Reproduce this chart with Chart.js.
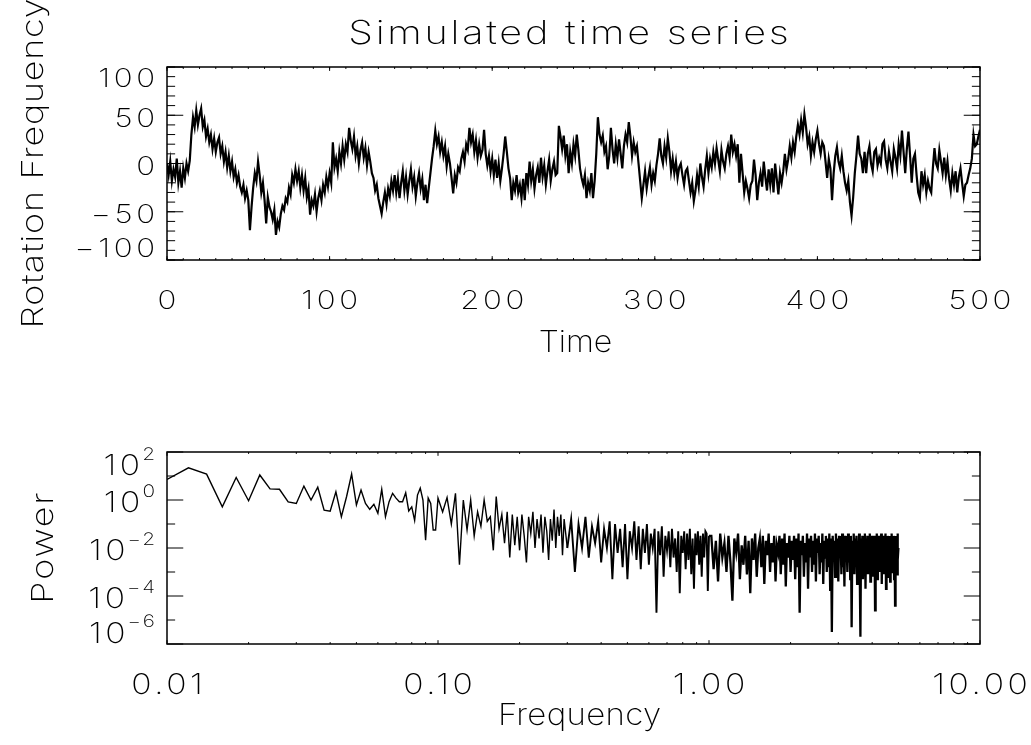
<!DOCTYPE html>
<html>
<head>
<meta charset="utf-8">
<title>Simulated time series</title>
<script src="https://cdn.jsdelivr.net/npm/chart.js@4.4.1/dist/chart.umd.min.js"></script>
<style>
  html, body { margin: 0; padding: 0; background: #fff; }
  canvas { display: block; }
</style>
</head>
<body>
<canvas id="seriesChart" width="1031" height="380"></canvas>
<canvas id="powerChart" width="1031" height="365"></canvas>
<script>
// rotation frequency, read every time unit (t = 0 ... 500)
const timeStep = 1;
const rotationFreq = [
  0, -12, 2, -18, -6, -14, 5, -20, -8, -25,
  -5, -15, 0, -8, 3, 30, 48, 38, 55, 40,
  50, 57, 38, 45, 28, 36, 22, 30, 15, 26,
  12, 22, 27, 10, 18, 2, 12, -4, 8, -8,
  2, -14, -6, -20, -12, -24, -30, -22, -36, -28,
  -38, -69, -45, -25, -10, -18, 2, -12, -30, -20,
  -38, -62, -35, -45, -50, -58, -48, -74, -60, -66,
  -52, -44, -48, -36, -40, -25, -32, -12, -20, -6,
  -18, -8, -25, -12, -28, -15, -35, -26, -53, -38,
  -44, -32, -50, -36, -28, -38, -22, -30, -14, -24,
  -10, -20, 22, -4, 5, -8, 12, 0, 18, 4,
  20, 12, 37, 24, 15, 28, 8, 18, 0, 14,
  22, 6, 16, -2, 12, 2, -10, -15, -28, -22,
  -36, -44, -52, -40, -30, -42, -26, -34, -18, -28,
  -12, -30, -16, -36, -20, -8, -28, -14, -32, -18,
  -6, -24, -14, -34, -20, -10, -26, -16, -38, -22,
  -41, -25, -10, 5, 18, 34, 20, 28, 12, 22,
  8, 18, -3, 10, 0, -15, -31, -12, -20, -4,
  -8, 5, 12, 2, 20, 14, 37, 22, 30, 12,
  24, 6, 20, 8, 14, 35, 10, -2, 8, -8,
  5, -12, 4, -15, 0, -18, -5, 10, 28, 12,
  -5, -15, -38, -20, -28, -12, -30, -22, -36, -16,
  -38, -10, -22, 2, -18, -6, -26, -12, -4, -20,
  6, -14, -2, -22, -8, 4, -18, -6, 2, -12,
  -10, 39, 28, 15, 29, 8, 20, -10, 12, 0,
  20, 8, 30, 14, -5, -15, -22, -12, -36, -20,
  -28, -10, -36, -18, 10, 48, 30, 22, 29, 12,
  18, -6, 8, 37, 15, 0, 20, 6, 25, 10,
  -5, 18, 30, 22, 43, 28, 8, 22, 12, 18,
  0, -18, -36, -22, -8, -26, -14, -4, -22, -10,
  -18, -2, 10, 26, 8, 0, 18, 6, 26, 12,
  -8, 5, -10, 2, -15, -4, 0, -12, -22, -8,
  -5, -18, -30, -20, -39, -28, -12, -24, 0, -14,
  -24, -6, 8, -10, 5, -4, 12, 0, 16, 4,
  -8, 14, 2, -5, 10, 18, 6, 30, 12, 20,
  8, 20, -20, 10, -10, -30, -18, -26, -36, -22,
  -18, 4, -12, -38, -20, -10, -24, 2, -14, -28,
  -6, -22, -5, -30, 0, -16, -32, -10, -20, -8,
  10, -6, 4, 18, 6, 22, 12, 28, 40, 30,
  45, 32, 51, 38, 20, 28, 8, 22, 12, 25,
  34, 20, 10, 22, 18, 2, -15, 5, -5, -38,
  -10, 8, 17, 2, -5, 8, -8, -20, -28, -18,
  -40, -54, -35, -10, 8, 29, 10, 5, -10, 12,
  -10, 10, 18, 0, -8, 12, 15, -2, 6, 0,
  20, 23, 4, -5, 12, 2, -8, 15, 6, -5,
  20, 8, 34, 12, -10, 15, 33, 8, -20, 5,
  10, -12, -30, -36, -8, -22, -12, -30, -18, -26,
  -30, -5, 16, 0, -5, 14, 2, -10, 6, -12,
  2, -16, -28, -10, -22, -8, -30, -14, -5, -20,
  -34, -22, -20, -12, -5, 5, 30, 18, 20, 28,
  35
];
const timeTicks = [0, 100, 200, 300, 400, 500];
const rotTicks = [-100, -50, 0, 50, 100];

// power spectrum, four runs of the frequency grid
const lowStart = 0.010, lowStep = 0.002;
const powerLow = [
  7.2, 22, 12, 0.52, 8.7, 0.93, 11, 2.9, 2.8, 0.83,
  0.72, 3.8, 1.0, 3.4, 0.38, 0.34, 2.2, 0.2, 1.4, 12,
  0.62, 2.6, 0.72, 0.41, 0.66, 0.28, 2.8, 0.2, 0.85, 1.9,
  1.2, 0.85, 0.85, 2.0, 0.35, 0.52, 0.14, 1.6, 3.1, 1.0,
  0.021, 1.2, 0.72, 0.056, 0.056, 1.2
];
const midStart = 0.104, midStep = 0.004;
const powerMid = [
  0.32, 1.26, 0.1, 1.9, 2e-3, 1, 5.6e-2, 1, 3.2e-2, 0.32,
  8e-2, 1, 0.13, 0.2, 8e-3, 1.4, 6.3e-2, 0.25, 1.6e-2, 0.32,
  4e-3, 0.25, 1.3e-2, 0.2, 8e-3, 0.25, 3.2e-2, 2.5e-3, 0.2, 4e-2,
  0.32, 1e-2, 0.16, 2.5e-2, 0.25, 6.3e-3, 0.2, 5e-2, 3.2e-3, 0.16,
  2e-2, 0.4, 1e-2, 0.2, 3.2e-2, 0.25, 5e-3, 0.16, 4e-2, 1e-2
];
const highStart = 0.31, highStep = 0.01;
const powerHigh = [
  0.16, 1e-3, 0.1, 1e-2, 0.2, 4e-3, 8e-2, 1.6e-2, 0.13, 2.5e-3,
  6.3e-2, 1e-2, 0.13, 5e-4, 0.1, 6.3e-3, 6.3e-2, 1.6e-3, 0.1, 5e-4,
  5e-2, 1e-2, 0.13, 3.2e-3, 8e-2, 1.3e-3, 6.3e-2, 6.3e-3, 0.1, 2e-3,
  4e-2, 1e-2, 6.3e-2, 2e-5, 5e-2, 5e-3, 8e-2, 6.3e-4, 3.2e-2, 8e-3,
  5e-2, 1.6e-3, 6.3e-2, 4e-3, 2.5e-2, 1e-3, 5e-2, 1.3e-4, 3.2e-2, 6.3e-3,
  5e-2, 1.3e-3, 4e-2, 3.2e-3, 6.3e-2, 8e-4, 2.5e-2, 2e-4, 4e-2, 5e-3,
  5e-2, 2e-3, 3.2e-2, 6.3e-4, 4e-2, 4e-3, 5e-2, 4e-2, 1.6e-4, 3.2e-2
];
const topStart = 1.02, topStep = 0.02;
const powerTop = [
  3.2e-2, 1.3e-3, 2e-2, 4e-4, 4e-2, 4e-3, 1.6e-2, 1e-3, 3.2e-2, 2.5e-3,
  6.3e-5, 2.5e-2, 6.3e-3, 4e-2, 5e-4, 1.3e-2, 2e-3, 3.2e-2, 8e-4, 2e-2,
  1.3e-4, 2.5e-2, 3.2e-3, 4e-2, 6.3e-4, 1e-2, 2.5e-2, 1.6e-3, 3.2e-2, 3.2e-4,
  2e-2, 5e-3, 4e-2, 1e-3, 1.6e-2, 2.5e-3, 3.2e-2, 4e-4, 1.3e-2, 6.3e-3,
  3.2e-2, 8e-4, 2.5e-2, 2e-3, 4e-2, 2.5e-4, 1.6e-2, 4e-3, 3.2e-2, 1e-3,
  2e-2, 3.2e-3, 3.2e-2, 5e-4, 2.5e-2, 1.6e-3, 4e-2, 2e-5, 2e-2, 5e-3,
  3.2e-2, 6.3e-4, 1.6e-2, 2.5e-3, 4e-2, 2e-4, 2.5e-2, 4e-3, 3.2e-2, 1e-3,
  2e-2, 2e-3, 4e-2, 4e-4, 2.5e-2, 6.3e-3, 3.2e-2, 8e-4, 1.6e-2, 2.5e-3,
  4e-2, 3.2e-4, 2e-2, 4e-3, 3.2e-2, 1e-3, 2.5e-2, 1.6e-3, 4e-2, 1.6e-4,
  2.5e-2, 3.2e-6, 3.2e-2, 3.2e-3, 2e-2, 6.3e-4, 4e-2, 2e-3, 2.5e-2, 4e-4,
  3.2e-2, 5e-3, 2e-2, 8e-4, 4e-2, 1.6e-3, 2.5e-2, 2.5e-4, 3.2e-2, 4e-3,
  1.6e-2, 1e-3, 4e-2, 2.5e-3, 2.5e-2, 5e-4, 3.2e-2, 5e-6, 2e-2, 3.2e-3,
  4e-2, 8e-4, 2.5e-2, 2e-3, 3.2e-2, 3.2e-4, 2e-2, 5e-3, 4e-2, 1e-3,
  2e-6, 2.5e-2, 2.5e-3, 3.2e-2, 5e-4, 2e-2, 4e-3, 4e-2, 2e-4, 2.5e-2,
  1.6e-3, 3.2e-2, 8e-4, 1.6e-2, 3.2e-3, 4e-2, 4e-4, 2.5e-2, 2e-3, 3.2e-2,
  6.3e-4, 2e-2, 4e-3, 3.2e-2, 2.5e-5, 2.5e-2, 1.3e-3, 4e-2, 5e-4, 1.6e-2,
  2.5e-3, 3.2e-2, 1e-3, 2.5e-2, 5e-3, 4e-2, 3.2e-4, 2e-2, 1.6e-3, 3.2e-2,
  8e-4, 2.5e-2, 3.2e-3, 4e-2, 2e-4, 2e-2, 2e-3, 3.2e-2, 6.3e-4, 2.5e-2,
  4e-3, 3.2e-2, 4e-4, 2e-2, 1.3e-3, 4e-2, 1e-3, 2.5e-2, 2.5e-3, 3.2e-2,
  5e-4, 2e-2, 4e-5, 3.2e-2, 1.6e-3, 2.5e-2, 8e-4, 4e-2, 3.2e-3, 1e-2
];
const freqTicks = [0.01, 0.1, 1, 10];
const freqTickText = ['0.01', '0.10', '1.00', '10.00'];
const powerTicks = [1e2, 1e0, 1e-2, 1e-4, 1e-6];
const powerTickExp = ['2', '0', '\u22122', '\u22124', '\u22126'];

const FONT = 'Inter, "DejaVu Sans", sans-serif';
const WEIGHT = 200;

// minor tick positions
const timeMinor = [];
for (let t = 0; t <= 500; t += 10) timeMinor.push(t);
const rotMinor = [];
for (let v = -100; v <= 100; v += 10) rotMinor.push(v);
const freqMinor = [];
[0.01, 0.1, 1].forEach(d => { for (let m = 2; m <= 9; m++) freqMinor.push(d * m); });
const powerMinor = [1e1, 1e-1, 1e-3, 1e-5];

function run(start, step, vals) {
  return vals.map((p, i) => ({ x: +(start + i * step).toFixed(3), y: p }));
}
const seriesPoints = rotationFreq.map((v, i) => ({ x: i * timeStep, y: v }));
const spectrumPoints = [].concat(
  run(lowStart, lowStep, powerLow),
  run(midStart, midStep, powerMid),
  run(highStart, highStep, powerHigh),
  run(topStart, topStep, powerTop)
);

// text with letter spacing and a horizontal stretch (wide plotter-style glyphs)
function put(ctx, s, x, y, size, spacing, align, k) {
  k = k || 1;
  ctx.font = WEIGHT + ' ' + size + 'px ' + FONT;
  ctx.letterSpacing = spacing + 'px';
  const w = (ctx.measureText(s).width - spacing) * k;
  const x0 = align === 'center' ? x - w / 2 : align === 'right' ? x - w : x;
  ctx.save();
  ctx.translate(x0, y);
  ctx.scale(k, 1);
  ctx.fillText(s, 0, 0);
  ctx.restore();
  return w;
}

// IDL-style box: inward ticks on all four sides, labels and titles
const idlFrame = {
  id: 'idlFrame',
  afterDraw(chart, args, o) {
    const { ctx, chartArea: a } = chart;
    const sx = chart.scales.x, sy = chart.scales.y;
    const w = a.right - a.left, h = a.bottom - a.top;
    ctx.save();
    ctx.strokeStyle = '#000';
    ctx.lineWidth = 1;
    ctx.beginPath();
    const xt = (v, len) => {
      const p = sx.getPixelForValue(v);
      ctx.moveTo(p, a.bottom); ctx.lineTo(p, a.bottom - len);
      ctx.moveTo(p, a.top); ctx.lineTo(p, a.top + len);
    };
    const yt = (v, len) => {
      const p = sy.getPixelForValue(v);
      ctx.moveTo(a.left, p); ctx.lineTo(a.left + len, p);
      ctx.moveTo(a.right, p); ctx.lineTo(a.right - len, p);
    };
    o.xTicks.forEach(v => xt(v, h * 0.02));
    o.xMinor.forEach(v => xt(v, h * 0.01));
    o.yTicks.forEach(v => yt(v, w * 0.02));
    o.yMinor.forEach(v => yt(v, w * 0.01));
    ctx.stroke();
    ctx.lineWidth = 1.5;
    ctx.strokeRect(a.left, a.top, w, h);

    ctx.fillStyle = '#000';
    ctx.textAlign = 'left';
    ctx.textBaseline = 'alphabetic';
    o.xTicks.forEach((v, i) => {
      put(ctx, o.xText[i], sx.getPixelForValue(v), a.bottom + o.xLabelDrop, o.tickSize, 3, 'center', 1.2);
    });
    o.yTicks.forEach((v, i) => {
      let c = sy.getPixelForValue(v) + 2;
      c = Math.min(Math.max(c, a.top + o.inset[0]), a.bottom - o.inset[1]);
      const base = c + o.tickSize * 0.36;
      if (o.yExp) {
        const sw = put(ctx, o.yExp[i], a.left - 12, base - o.tickSize * 0.55, o.tickSize * 0.62, 1.5, 'right', 1.2);
        put(ctx, '10', a.left - 14 - sw, base, o.tickSize, 3, 'right', 1.2);
      } else {
        put(ctx, o.yText[i], a.left - 12, base, o.tickSize, 3, 'right', 1.2);
      }
    });
    const cx = (a.left + a.right) / 2;
    if (o.title) put(ctx, o.title, cx - 5, o.titleY, 33, 2.3, 'center', 1.2);
    put(ctx, o.xTitle, cx + o.xTitleShift, a.bottom + o.xTitleDrop, 30, o.xTitleSpacing, 'center', o.xTitleStretch);
    ctx.save();
    ctx.translate(o.yTitleX, (a.top + a.bottom) / 2);
    ctx.rotate(-Math.PI / 2);
    put(ctx, o.yTitle, 0, 0, 30, o.yTitleSpacing, 'center', 1.2);
    ctx.restore();
    ctx.restore();
  }
};

const baseOptions = {
  responsive: false,
  animation: false,
  events: [],
  plugins: { legend: { display: false }, tooltip: { enabled: false } }
};

new Chart(document.getElementById('seriesChart'), {
  type: 'line',
  data: {
    datasets: [{
      data: seriesPoints,
      borderColor: '#000',
      borderWidth: 2.2,
      pointRadius: 0,
      tension: 0
    }]
  },
  options: {
    ...baseOptions,
    layout: { padding: { left: 167, right: 51, top: 67, bottom: 120 } },
    scales: {
      x: { type: 'linear', min: 0, max: 500, display: false },
      y: { type: 'linear', min: -100, max: 100, display: false }
    },
    plugins: {
      ...baseOptions.plugins,
      idlFrame: {
        xTicks: timeTicks, xMinor: timeMinor, xText: timeTicks.map(String),
        yTicks: rotTicks, yMinor: rotMinor, yText: rotTicks.map(v => v < 0 ? '\u2212' + (-v) : String(v)),
        tickSize: 26, inset: [11, 12], xLabelDrop: 49,
        title: 'Simulated time series', titleY: 44,
        xTitle: 'Time', xTitleDrop: 92, xTitleSpacing: 0, xTitleStretch: 1.07, xTitleShift: 2,
        yTitle: 'Rotation Frequency', yTitleX: 43, yTitleSpacing: 0.6
      }
    }
  },
  plugins: [idlFrame]
});

new Chart(document.getElementById('powerChart'), {
  type: 'line',
  data: {
    datasets: [{
      data: spectrumPoints,
      borderColor: '#000',
      borderWidth: 1.4,
      segment: { borderWidth: c => (c.p0.parsed.x >= 1 ? 2.3 : c.p0.parsed.x >= 0.3 ? 1.9 : 1.4) },
      pointRadius: 0,
      tension: 0
    }]
  },
  options: {
    ...baseOptions,
    layout: { padding: { left: 167, right: 51, top: 72, bottom: 101 } },
    scales: {
      x: { type: 'logarithmic', min: 0.01, max: 10, display: false },
      y: { type: 'logarithmic', min: 1e-6, max: 1e2, display: false }
    },
    plugins: {
      ...baseOptions.plugins,
      idlFrame: {
        xTicks: freqTicks, xMinor: freqMinor, xText: freqTickText,
        yTicks: powerTicks, yMinor: powerMinor, yExp: powerTickExp,
        tickSize: 28, inset: [13, 11.5], xLabelDrop: 50,
        xTitle: 'Frequency', xTitleDrop: 81, xTitleSpacing: 0.3, xTitleStretch: 1.1, xTitleShift: 6,
        yTitle: 'Power', yTitleX: 53, yTitleSpacing: 1.5
      }
    }
  },
  plugins: [idlFrame]
});
</script>
</body>
</html>
